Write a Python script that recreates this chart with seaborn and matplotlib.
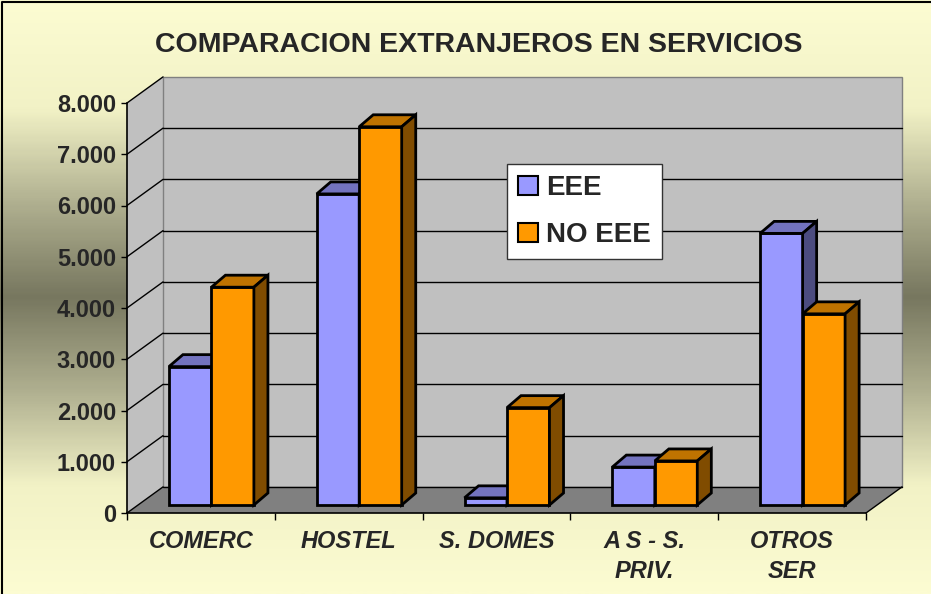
import numpy as np
import pandas as pd
import seaborn as sns
import matplotlib.pyplot as plt
from matplotlib.patches import Polygon, Patch
from matplotlib.colors import LinearSegmentedColormap
from matplotlib.font_manager import FontProperties

categories = ['COMERC', 'HOSTEL', 'S. DOMES', 'A S - S.\nPRIV.', 'OTROS\nSER']
series = ['EEE', 'NO EEE']
eee = [2700, 6070, 140, 740, 5300]
no_eee = [4250, 7380, 1900, 860, 3730]
y_ticks = list(range(0, 8001, 1000))

front_colors = {'EEE': '#9999FF', 'NO EEE': '#FF9900'}
top_colors = {'EEE': '#7373BF', 'NO EEE': '#BF7300'}
side_colors = {'EEE': '#4C4C80', 'NO EEE': '#804C00'}

# 3D look (data units): wall depth, bar offset inside the box, bar depth
DX, DY = 0.244, 510
SX, SY = 0.071, 156
BX, BY = 0.095, 234

df = pd.DataFrame({
    'cat': categories * 2,
    'serie': ['EEE'] * 5 + ['NO EEE'] * 5,
    'val': eee + no_eee,
})

sns.set_style('white')
plt.rcParams['font.family'] = ['Liberation Sans', 'DejaVu Sans']

fig = plt.figure(figsize=(9.31, 5.94), dpi=100)

# gradient background
bg = fig.add_axes([0, 0, 1, 1], zorder=-10)
cmap = LinearSegmentedColormap.from_list('bg', [
    (0.0, '#FCFCD2'), (0.18, '#F2F2C6'), (0.34, '#B0B090'), (0.5, '#77775F'),
    (0.66, '#B0B090'), (0.82, '#F2F2C6'), (1.0, '#FCFCD2')])
bg.imshow(np.linspace(0, 1, 300).reshape(-1, 1), aspect='auto', cmap=cmap,
          extent=[0, 1, 0, 1])
bg.plot([0.002, 0.002, 1], [0, 0.996, 0.996], color='black', lw=1.5)
bg.set_xlim(0, 1)
bg.set_ylim(0, 1)
bg.axis('off')

ax = fig.add_axes([127 / 931, 81 / 594, 739 / 931, 410 / 594])
ax.patch.set_alpha(0)
x0, x1 = -0.5, 4.5
ymax = 8000

# walls and floor
ax.add_patch(Polygon([(x0, 0), (x0 + DX, DY), (x0 + DX, ymax + DY), (x0, ymax)],
                     facecolor='#C0C0C0', edgecolor='none', clip_on=False, zorder=0.5))
ax.add_patch(Polygon([(x0 + DX, DY), (x1 + DX, DY), (x1 + DX, ymax + DY), (x0 + DX, ymax + DY)],
                     facecolor='#C0C0C0', edgecolor='#808080', lw=1, clip_on=False, zorder=0.5))
ax.add_patch(Polygon([(x0, 0), (x1, 0), (x1 + DX, DY), (x0 + DX, DY)],
                     facecolor='#808080', edgecolor='none', clip_on=False, zorder=0.6))
for v in y_ticks:
    ax.plot([x0, x0 + DX], [v, v + DY], color='black', lw=1, clip_on=False, zorder=1)
    if v < ymax:
        ax.plot([x0 + DX, x1 + DX], [v + DY, v + DY], color='black', lw=1,
                clip_on=False, zorder=1)
ax.plot([x1, x1 + DX], [0, DY], color='black', lw=1, clip_on=False, zorder=1)

sns.barplot(data=df, x='cat', y='val', hue='serie', hue_order=series,
            palette=front_colors, width=0.575, gap=0, edgecolor='black',
            linewidth=2, saturation=1, legend=False, ax=ax)

for k, (name, cont) in enumerate(zip(series, ax.containers)):
    for p in cont.patches:
        bx = p.get_x() + SX
        w = p.get_width()
        h = p.get_height()
        p.set_x(bx)
        p.set_y(SY)
        p.set_zorder(3 + k)
        p.set_clip_on(False)
        top = SY + h
        ax.add_patch(Polygon([(bx, top), (bx + w, top), (bx + w + BX, top + BY), (bx + BX, top + BY)],
                             facecolor=top_colors[name], edgecolor='black', lw=2,
                             joinstyle='miter', clip_on=False, zorder=3 + k))
        ax.add_patch(Polygon([(bx + w, SY), (bx + w + BX, SY + BY), (bx + w + BX, top + BY), (bx + w, top)],
                             facecolor=side_colors[name], edgecolor='black', lw=2,
                             joinstyle='miter', clip_on=False, zorder=3 + k))

ax.set_xlim(x0, x1)
ax.set_ylim(0, ymax)
ax.set_xlabel('')
ax.set_ylabel('')
for s in ['top', 'right']:
    ax.spines[s].set_visible(False)
for s in ['left', 'bottom']:
    ax.spines[s].set_color('black')
    ax.spines[s].set_linewidth(1.2)

ax.set_yticks(y_ticks)
ax.set_yticklabels([f'{v:,}'.replace(',', '.') for v in y_ticks],
                   fontsize=17, fontweight='bold')
ax.tick_params(axis='y', direction='out', length=4, width=1, color='black', pad=4, left=True)

ax.set_xticks(range(len(categories)))
ax.set_xticklabels(categories, fontsize=17, fontweight='bold', style='italic')
for t in ax.get_xticklabels():
    t.set_linespacing(1.42)
ax.tick_params(axis='x', which='major', length=0, pad=12)
ax.set_xticks(np.arange(x0, x1 + 0.01, 1), minor=True)
ax.tick_params(axis='x', which='minor', direction='out', length=5, width=1,
               color='black', bottom=True)

fig.text(479 / 931, 1 - 45 / 594, 'COMPARACION EXTRANJEROS EN SERVICIOS',
         ha='center', va='center', fontsize=20.5, fontweight='bold')

handles = [Patch(facecolor=front_colors[s], edgecolor='black', linewidth=1.5, label=s)
           for s in series]
leg_font = FontProperties(family='Liberation Sans', weight='bold', size=20)
leg = ax.legend(handles=handles, loc='upper left', bbox_to_anchor=(507 / 931, 1 - 164 / 594),
                bbox_transform=fig.transFigure, borderaxespad=0, fancybox=False,
                frameon=True, edgecolor='#333333', framealpha=1,
                prop=leg_font, handlelength=0.7,
                handleheight=0.7, handletextpad=0.3, labelspacing=0.75, borderpad=0.4)
leg.get_frame().set_linewidth(1)
leg.set_zorder(10)

fig.savefig('out.png', dpi=100)
